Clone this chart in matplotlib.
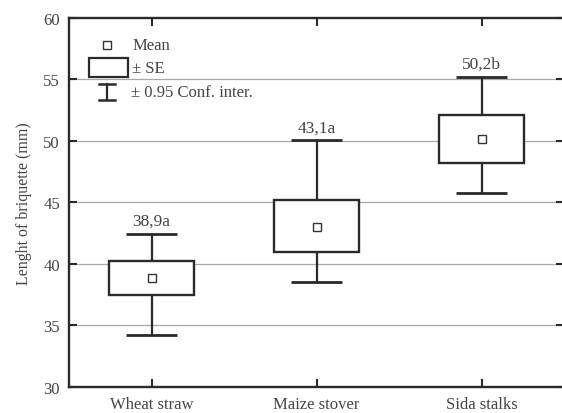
import matplotlib
matplotlib.use("Agg")
import matplotlib.pyplot as plt
from matplotlib.patches import Rectangle

# data
categories = ['Wheat straw', 'Maize stover', 'Sida stalks']
means = [38.8, 43.0, 50.1]
se_low = [37.45, 40.95, 48.2]
se_high = [40.25, 45.2, 52.1]
ci_low = [34.2, 38.5, 45.75]
ci_high = [42.45, 50.05, 55.2]
labels = ['38,9a', '43,1a', '50,2b']
yticks = [30, 35, 40, 45, 50, 55, 60]

line_c = '#2a2a2a'
text_c = '#444444'
plt.rcParams['font.family'] = ['Liberation Serif', 'DejaVu Serif']

fig = plt.figure(figsize=(5.62, 4.14), dpi=100)
W, H = 562, 414
ax = fig.add_axes([69 / W, 1 - 387.7 / H, 495 / W, 369 / H])

pos = [i + 0.5 for i in range(len(categories))]
box_w = 0.51
cap_w = 0.31

for y in yticks[1:-1]:
    ax.axhline(y, color='#a8a8a8', lw=0.9, zorder=1)

for x, m, sl, sh, cl, ch, lab in zip(pos, means, se_low, se_high, ci_low, ci_high, labels):
    ax.vlines(x, sh, ch, color=line_c, lw=1.6, zorder=2)
    ax.vlines(x, cl, sl, color=line_c, lw=1.6, zorder=2)
    ax.hlines([cl, ch], x - cap_w / 2, x + cap_w / 2, color=line_c, lw=2.0, zorder=2)
    ax.add_patch(Rectangle((x - box_w / 2, sl), box_w, sh - sl, facecolor='white',
                           edgecolor=line_c, lw=1.7, zorder=3))
    ax.plot(x, m, 's', ms=6, mfc='white', mec='#333333', mew=1.0, zorder=4)
    ax.text(x, ch + 0.4, lab, ha='center', va='bottom', fontsize=12.5, color=text_c)

# legend drawn by hand
tr = ax.transAxes
ax.plot(0.0768, 0.926, 's', ms=5.5, mfc='white', mec='#333333', mew=1.0, transform=tr, clip_on=False)
ax.add_patch(Rectangle((0.0404, 0.8393), 0.0786, 0.0515, facecolor='white', edgecolor=line_c,
                       lw=1.6, transform=tr))
ax.plot([0.0768, 0.0768], [0.777, 0.8203], color=line_c, lw=1.6, transform=tr)
ax.plot([0.0616, 0.092], [0.8203, 0.8203], color=line_c, lw=1.8, transform=tr)
ax.plot([0.0616, 0.092], [0.777, 0.777], color=line_c, lw=1.8, transform=tr)
ax.text(0.129, 0.926, 'Mean', transform=tr, va='center', fontsize=12, color=text_c)
ax.text(0.127, 0.864, '± SE', transform=tr, va='center', fontsize=12, color=text_c)
ax.text(0.125, 0.799, '± 0.95 Conf. inter.', transform=tr, va='center', fontsize=12, color=text_c)

ax.set_xlim(0, 3)
ax.set_ylim(30, 60)
ax.set_yticks(yticks)
ax.set_xticks(pos)
ax.set_xticklabels(categories)
ax.tick_params(direction='in', length=6, width=1.5, color=line_c, labelcolor=text_c,
               labelsize=12, top=True, right=True)
ax.tick_params(axis='y', pad=6.5)
ax.tick_params(axis='x', pad=7)
for s in ax.spines.values():
    s.set_linewidth(1.7)
    s.set_color(line_c)
ax.set_ylabel('Lenght of briquette (mm)', fontsize=11.5, color=text_c, labelpad=8)

fig.savefig('out.png', dpi=100)
